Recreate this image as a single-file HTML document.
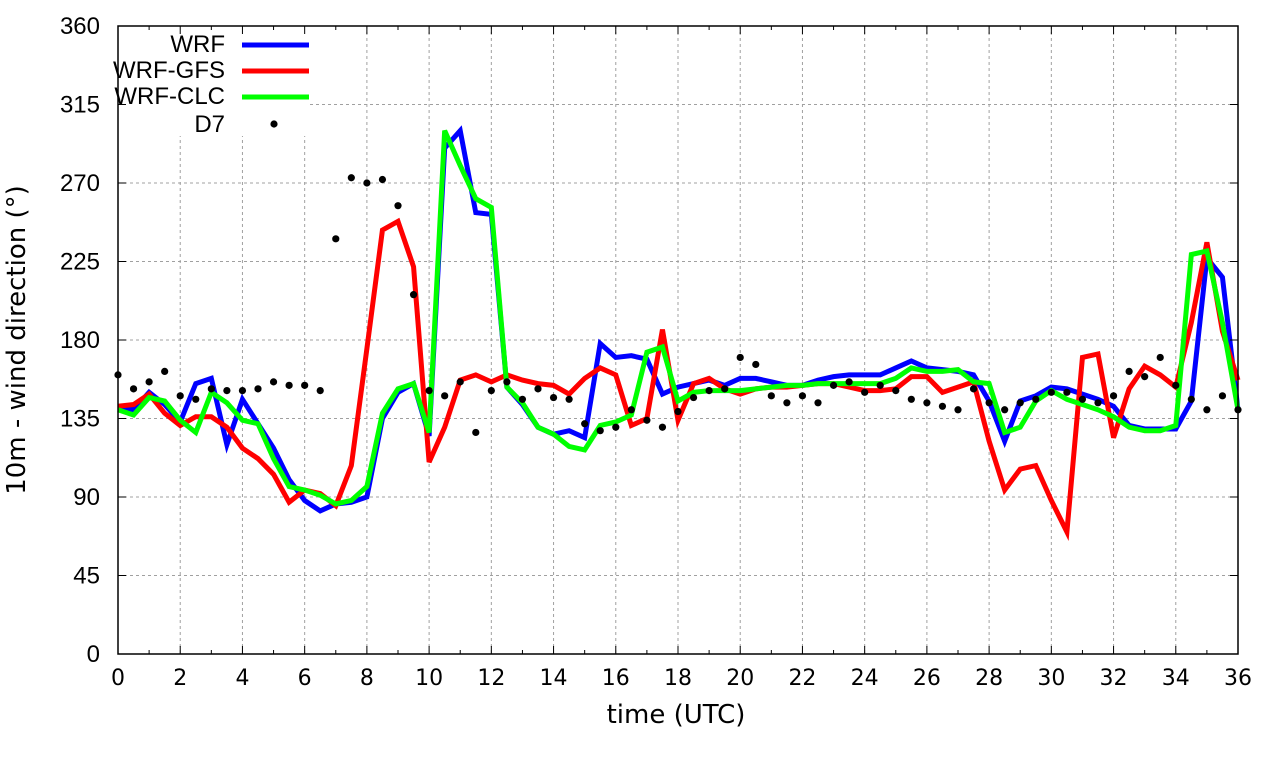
<!DOCTYPE html>
<html><head><meta charset="utf-8"><style>
html,body{margin:0;padding:0;background:#fff;}
svg{display:block;font-family:"Liberation Sans",sans-serif;}
.dv{font-family:"DejaVu Sans",sans-serif;}
</style></head><body>
<svg id="chart" width="1280" height="760" xmlns="http://www.w3.org/2000/svg">
<g id="grid"></g>
<g id="series"></g>
<rect x="108" y="26" width="202" height="110" fill="#fff"/>
<g id="axes"></g>
<g id="legend"></g>
<text class="dv" x="676" y="723" text-anchor="middle" font-size="26">time (UTC)</text>
<text class="dv" transform="translate(25,340) rotate(-90)" text-anchor="middle" font-size="26">10m - wind direction (°)</text>
</svg>
<script>
const times = Array.from({length:73},(_,i)=>i*0.5);
const wrf = [142,140,150,143,133,155,158,120,146,132,118,100,88,82,86,87,90,135,150,155,125,290,300,253,252,153,143,130,126,128,124,178,170,171,169,149,153,155,157,154,158,158,156,154,154,157,159,160,160,160,164,168,164,163,162,160,145,122,145,148,153,152,149,146,142,131,129,129,129,145,227,216,140];
const wrfGfs = [142,143,149,138,131,136,136,130,118,112,103,87,94,92,85,108,175,243,248,222,110,130,157,160,156,160,157,155,154,149,158,164,160,131,135,186,134,155,158,152,149,152,153,153,154,155,155,153,151,151,152,159,159,150,153,156,122,94,106,108,88,70,170,172,124,152,165,160,153,190,236,185,157];
const wrfClc = [140,137,147,145,134,127,150,144,134,132,112,96,94,91,86,88,96,138,152,155,127,300,280,261,256,153,144,130,126,119,117,131,133,137,173,176,145,150,151,151,151,152,153,154,154,155,155,155,155,155,158,164,162,162,163,156,155,127,130,145,151,146,143,140,136,130,128,128,131,229,231,190,140];
const d7 = [160,152,156,162,148,146,152,151,151,152,156,154,154,151,238,273,270,272,257,206,151,148,156,127,151,156,146,152,147,146,132,128,130,140,134,130,139,147,151,152,170,166,148,144,148,144,154,156,150,154,151,146,144,142,140,152,144,140,144,146,150,150,146,144,148,162,159,170,154,146,140,148,140];
const xTicks = [0,2,4,6,8,10,12,14,16,18,20,22,24,26,28,30,32,34,36];
const yTicks = [0,45,90,135,180,225,270,315,360];
const X0=118,X1=1238,Y0=654,Y1=26;
const xs = t => X0 + (t/36)*(X1-X0);
const ys = v => Y0 - (v/360)*(Y0-Y1);
const NS="http://www.w3.org/2000/svg";
function mk(tag, attrs, parent){const e=document.createElementNS(NS,tag);for(const k in attrs)e.setAttribute(k,attrs[k]);parent.appendChild(e);return e;}
const grid=document.getElementById('grid'), axes=document.getElementById('axes'), series=document.getElementById('series'), legend=document.getElementById('legend');
xTicks.forEach(t=>{
  const x=xs(t);
  if(t>0&&t<36){const g=mk('line',{x1:x,y1:Y1,x2:x,y2:Y0,stroke:'#a0a0a0','stroke-width':1,'stroke-dasharray':'3,3'},grid);
  
  }
  mk('line',{x1:x,y1:Y0,x2:x,y2:Y0-8,stroke:'#000'},axes);
  mk('line',{x1:x,y1:Y1,x2:x,y2:Y1+8,stroke:'#000'},axes);
  const l=mk('text',{x:x,y:Y0+31,'text-anchor':'middle','font-size':22,'class':'dv'},axes);
  l.textContent=t;
  
  
});
for(let t=1;t<36;t+=2){const x=xs(t);mk('line',{x1:x,y1:Y0,x2:x,y2:Y0-4,stroke:'#000'},axes);mk('line',{x1:x,y1:Y1,x2:x,y2:Y1+4,stroke:'#000'},axes);}
yTicks.forEach(v=>{
  const y=ys(v);
  if(v>0&&v<360){const g=mk('line',{x1:X0,y1:y,x2:X1,y2:y,stroke:'#a0a0a0','stroke-width':1,'stroke-dasharray':'3,3'},grid);
  
  }
  mk('line',{x1:X0,y1:y,x2:X0+8,y2:y,stroke:'#000'},axes);
  mk('line',{x1:X1,y1:y,x2:X1-8,y2:y,stroke:'#000'},axes);
  const l=mk('text',{x:X0-18,y:y+8,'text-anchor':'end','font-size':24},axes);
  l.textContent=v;
  
  
});
mk('rect',{x:X0,y:Y1,width:X1-X0,height:Y0-Y1,fill:'none',stroke:'#000','stroke-width':1.5},axes);
function line(vals,color,name){
  const p=mk('polyline',{points:vals.map((v,i)=>xs(times[i])+','+ys(v)).join(' '),fill:'none',stroke:color,'stroke-width':5,'stroke-linejoin':'miter'},series);
  
  
}
line(wrf,'#0000ff','wrf-line');
line(wrfGfs,'#ff0000','wrf-gfs-line');
line(wrfClc,'#00ff00','wrf-clc-line');
d7.forEach((v,i)=>{
  const c=mk('circle',{cx:xs(times[i]),cy:ys(v),r:3.6,fill:'#000'},series);
  
  
});
const leg=[['WRF','#0000ff',45],['WRF-GFS','#ff0000',71],['WRF-CLC','#00ff00',97]];
leg.forEach(([n,c,y])=>{
  const t=mk('text',{x:225,y:y+7,'text-anchor':'end','font-size':24},legend);
  t.textContent=n;
  
  
  const l=mk('line',{x1:242,y1:y,x2:309,y2:y,stroke:c,'stroke-width':5},legend);
  
  
});
const dt=mk('text',{x:225,y:132,'text-anchor':'end','font-size':24},legend);
dt.textContent='D7';


const dc=mk('circle',{cx:274,cy:124,r:3.6,fill:'#000'},legend);


</script>
</body></html>
